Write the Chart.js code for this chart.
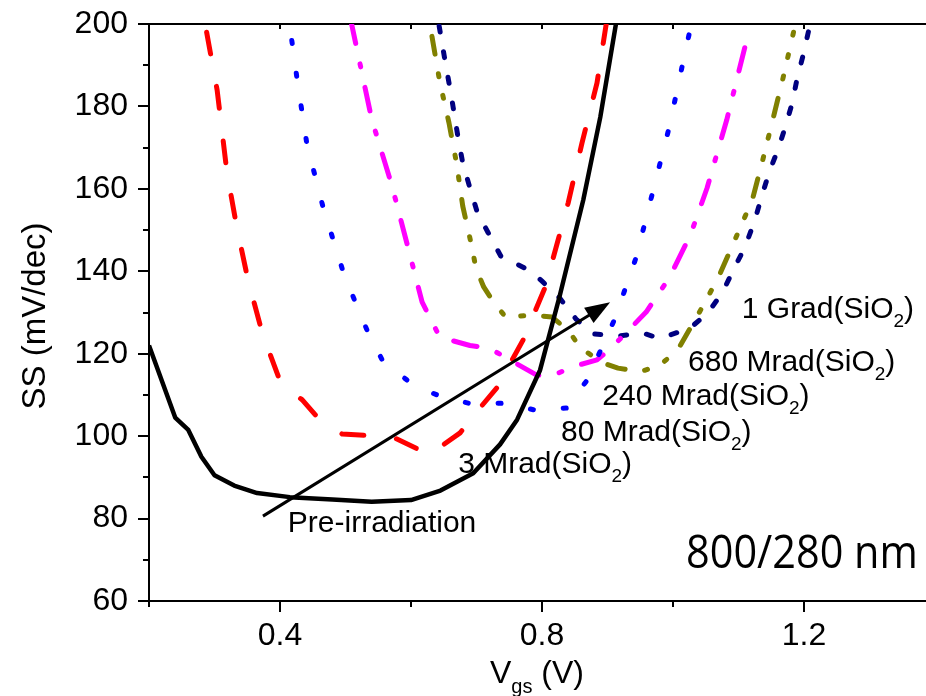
<!DOCTYPE html>
<html>
<head>
<meta charset="utf-8">
<script src="https://cdn.jsdelivr.net/npm/chart.js@4.4.0/dist/chart.umd.min.js"></script>
<style>
  html, body { margin: 0; padding: 0; overflow: hidden; background: #fff; }
  #wrap { width: 946px; height: 696px; }
</style>
</head>
<body>
<div id="wrap"><canvas id="ss-chart" width="946" height="696"></canvas></div>
<script>
// --- Subthreshold swing vs. gate voltage, one curve per dose step ---
const preVgs = [0.20, 0.24, 0.26, 0.28, 0.30, 0.33, 0.365, 0.415, 0.48, 0.54, 0.60, 0.645, 0.695, 0.736, 0.762, 0.797, 0.827, 0.863, 0.889, 0.915];
const preSS  = [122, 104.5, 101.5, 95, 90.5, 88, 86.2, 85.2, 84.6, 84.1, 84.5, 86.8, 91, 98, 104, 116, 134, 157.3, 177.4, 202];

const mrad3Vgs = [0.288, 0.304, 0.319, 0.334, 0.351, 0.373, 0.402, 0.434, 0.461, 0.495, 0.572, 0.628, 0.675, 0.705, 0.731, 0.771, 0.805, 0.840, 0.861, 0.884, 0.900];
const mrad3SS  = [198, 184, 164, 150.7, 138, 125, 112.5, 108.8, 103.9, 100.5, 99.8, 95.5, 100.8, 106.8, 111.7, 123.3, 136.2, 156.6, 171.1, 185.7, 202];

const mrad80Vgs = [0.418, 0.426, 0.441, 0.466, 0.496, 0.515, 0.534, 0.557, 0.602, 0.644, 0.693, 0.744, 0.790, 0.837, 0.869, 0.911, 0.944, 0.969, 0.994, 1.015, 1.028];
const mrad80SS  = [196, 186.7, 170.9, 155.4, 140.1, 132.5, 125.3, 118.2, 112.6, 109.7, 107.8, 108, 106.3, 106.8, 113.6, 128.4, 143.5, 159.2, 174.8, 190.5, 200];

const mrad240Vgs = [0.508, 0.540, 0.571, 0.598, 0.617, 0.644, 0.690, 0.720, 0.792, 0.815, 0.846, 0.884, 0.907, 0.959, 0.995, 1.027, 1.052, 1.082, 1.117];
const mrad240SS  = [201, 176.9, 160.7, 144.2, 132.5, 124, 122, 121.3, 114.8, 114.6, 116.8, 118.5, 121.6, 130.1, 138.6, 149, 160.2, 176.7, 199];

const mrad680Vgs = [0.632, 0.644, 0.658, 0.670, 0.679, 0.693, 0.699, 0.711, 0.727, 0.745, 0.786, 0.815, 0.840, 0.858, 0.889, 0.916, 0.950, 0.980, 1.006, 1.038, 1.069, 1.095, 1.121, 1.137, 1.153, 1.168, 1.184];
const mrad680SS  = [197, 185.9, 176, 165.8, 155.8, 145.9, 140.8, 136.2, 132.3, 128.8, 129.4, 128.9, 125.7, 121.6, 118, 116.5, 115.6, 117.3, 120.6, 129.4, 138.4, 147.8, 157.3, 167, 177.2, 186.9, 198];

const grad1Vgs = [0.643, 0.653, 0.660, 0.666, 0.672, 0.679, 0.690, 0.701, 0.718, 0.737, 0.771, 0.786, 0.800, 0.827, 0.852, 0.878, 0.916, 0.954, 0.980, 1.026, 1.053, 1.075, 1.092, 1.110, 1.125, 1.136, 1.148, 1.160, 1.171, 1.182, 1.189, 1.198, 1.208];
const grad1SS  = [199.5, 190.1, 184, 178.2, 172.3, 166.3, 160.2, 154.4, 149.3, 143.7, 141, 139.6, 137.6, 133.5, 128.4, 124.8, 124.3, 125, 123.7, 126.2, 129.9, 134.7, 140.3, 145.9, 152.4, 158.5, 164.6, 169.4, 174.8, 180.8, 186.4, 192, 199];

const xTickLabels = ['0.4', '0.8', '1.2'];
const yTickLabels = ['60', '80', '100', '120', '140', '160', '180', '200'];

const FONT = '"Liberation Sans", Arial, sans-serif';

const toPoints = (xs, ys) => xs.map((x, i) => ({ x, y: ys[i] }));

const series = [
  { label: 'Pre-irradiation', pts: toPoints(preVgs, preSS), color: '#000000', width: 4.5, dash: [] },
  { label: '3 Mrad', pts: toPoints(mrad3Vgs, mrad3SS), color: '#ff0000', width: 5, dash: [22, 33] },
  { label: '80 Mrad', pts: toPoints(mrad80Vgs, mrad80SS), color: '#0000ff', width: 5, dash: [3, 30] },
  { label: '240 Mrad', pts: toPoints(mrad240Vgs, mrad240SS), color: '#ff00ff', width: 5, dash: [24, 21, 3, 21] },
  { label: '680 Mrad', pts: toPoints(mrad680Vgs, mrad680SS), color: '#808000', width: 5, dash: [18, 20, 3, 19, 3, 20] },
  { label: '1 Grad', pts: toPoints(grad1Vgs, grad1SS), color: '#000080', width: 5, dash: [6, 20] }
];

// curve labels, anchored in data units (left edge, baseline)
const curveNotes = [
  { parts: [{ t: 'Pre-irradiation' }], at: { x: 0.412, y: 76.7 } },
  { parts: [{ t: '3 Mrad(SiO' }, { t: '2', sub: true }, { t: ')' }], at: { x: 0.672, y: 91.0 } },
  { parts: [{ t: '80 Mrad(SiO' }, { t: '2', sub: true }, { t: ')' }], at: { x: 0.829, y: 98.8 } },
  { parts: [{ t: '240 Mrad(SiO' }, { t: '2', sub: true }, { t: ')' }], at: { x: 0.892, y: 107.5 } },
  { parts: [{ t: '680 Mrad(SiO' }, { t: '2', sub: true }, { t: ')' }], at: { x: 1.023, y: 115.8 } },
  { parts: [{ t: '1 Grad(SiO' }, { t: '2', sub: true }, { t: ')' }], at: { x: 1.105, y: 128.7 } }
];
const arrowFrom = { x: 0.374, y: 80.6 };
const arrowTo = { x: 0.904, y: 132.5 };

function drawRich(ctx, parts, x, y, size, measureOnly) {
  let cx = x;
  parts.forEach(p => {
    const s = p.sub ? Math.round(size * 0.64) : size;
    ctx.font = `${s}px ${FONT}`;
    if (!measureOnly) ctx.fillText(p.t, cx, p.sub ? y + size * 0.3 : y);
    cx += ctx.measureText(p.t).width;
  });
  return cx - x;
}

const decorations = {
  id: 'decorations',
  afterDraw(chart) {
    const { ctx, chartArea: area, scales: { x, y } } = chart;
    ctx.save();
    ctx.strokeStyle = '#000';
    ctx.fillStyle = '#000';
    ctx.lineWidth = 2;
    ctx.lineCap = 'butt';

    // tick marks: long on labelled values, short in between
    ctx.beginPath();
    for (let i = 2; i <= 14; i += 2) {
      const px = Math.round(x.getPixelForValue(i / 10));
      const major = i % 4 === 0;
      ctx.moveTo(px, area.bottom);
      ctx.lineTo(px, area.bottom + (major ? 11 : 6));
      ctx.moveTo(px, area.top);
      ctx.lineTo(px, area.top + 5);
    }
    for (let v = 60; v <= 200; v += 10) {
      const py = Math.round(y.getPixelForValue(v));
      ctx.moveTo(area.left, py);
      ctx.lineTo(area.left - (v % 20 === 0 ? 11 : 6), py);
    }
    ctx.stroke();

    // dose arrow
    const x0 = x.getPixelForValue(arrowFrom.x), y0 = y.getPixelForValue(arrowFrom.y);
    const x1 = x.getPixelForValue(arrowTo.x), y1 = y.getPixelForValue(arrowTo.y);
    const ang = Math.atan2(y1 - y0, x1 - x0);
    const headLen = 25, headHalf = 9;
    ctx.lineWidth = 3;
    ctx.beginPath();
    ctx.moveTo(x0, y0);
    ctx.lineTo(x1 - headLen * 0.8 * Math.cos(ang), y1 - headLen * 0.8 * Math.sin(ang));
    ctx.stroke();
    ctx.beginPath();
    ctx.moveTo(x1, y1);
    ctx.lineTo(x1 - headLen * Math.cos(ang) + headHalf * Math.sin(ang), y1 - headLen * Math.sin(ang) - headHalf * Math.cos(ang));
    ctx.lineTo(x1 - headLen * Math.cos(ang) - headHalf * Math.sin(ang), y1 - headLen * Math.sin(ang) + headHalf * Math.cos(ang));
    ctx.closePath();
    ctx.fill();

    // curve labels
    ctx.textAlign = 'left';
    ctx.textBaseline = 'alphabetic';
    curveNotes.forEach(n => {
      drawRich(ctx, n.parts, x.getPixelForValue(n.at.x), y.getPixelForValue(n.at.y), 30);
    });

    // device size tag
    ctx.save();
    ctx.font = '46px "Open Sans", "Noto Sans", sans-serif';
    ctx.translate(x.getPixelForValue(1.020), y.getPixelForValue(68.0));
    ctx.scale(0.9, 1);
    ctx.fillText('800/280 nm', 0, 0);
    ctx.restore();

    // axis titles
    const xTitle = [{ t: 'V' }, { t: 'gs', sub: true }, { t: ' (V)' }];
    const w = drawRich(ctx, xTitle, 0, 0, 32, true);
    drawRich(ctx, xTitle, 537 - w / 2, 683, 32);

    ctx.save();
    ctx.translate(45, 316);
    ctx.rotate(-Math.PI / 2);
    ctx.textAlign = 'center';
    ctx.font = `33px ${FONT}`;
    ctx.fillText('SS (mV/dec)', 0, 0);
    ctx.restore();

    ctx.restore();
  }
};

new Chart(document.getElementById('ss-chart'), {
  type: 'line',
  data: {
    datasets: series.map(s => ({
      label: s.label,
      data: s.pts,
      borderColor: s.color,
      borderWidth: s.width,
      borderDash: s.dash,
      borderCapStyle: s.dash.length ? 'round' : 'butt',
      borderJoinStyle: 'round',
      pointRadius: 0,
      tension: 0,
      fill: false,
      clip: 0
    }))
  },
  options: {
    responsive: false,
    animation: false,
    devicePixelRatio: 1,
    layout: { padding: { left: 0, right: 11, top: 0, bottom: 0 } },
    plugins: { legend: { display: false }, tooltip: { enabled: false } },
    scales: {
      x: {
        type: 'linear',
        position: 'bottom',
        min: 0.2,
        max: 1.4,
        afterFit: s => { s.height = 95; },
        grid: { display: false, drawTicks: true, tickLength: 11 },
        border: { display: true, color: '#000', width: 2 },
        ticks: {
          stepSize: 0.2,
          autoSkip: false,
          maxRotation: 0,
          padding: 5,
          color: '#000',
          font: { family: FONT, size: 32 },
          callback: v => {
            const t = v.toFixed(1);
            return xTickLabels.includes(t) ? t : '';
          }
        }
      },
      x2: {
        type: 'linear',
        position: 'top',
        min: 0.2,
        max: 1.4,
        afterFit: s => { s.height = 24; },
        grid: { display: false },
        border: { display: true, color: '#000', width: 2 },
        ticks: { display: false }
      },
      y: {
        type: 'linear',
        min: 60,
        max: 200,
        afterFit: s => { s.width = 149; },
        grid: { display: false, drawTicks: true, tickLength: 21 },
        border: { display: true, color: '#000', width: 2 },
        ticks: {
          stepSize: 10,
          autoSkip: false,
          padding: 0,
          color: '#000',
          font: { family: FONT, size: 32 },
          callback: v => {
            const t = String(Math.round(v));
            return yTickLabels.includes(t) ? t : '';
          }
        }
      }
    }
  },
  plugins: [decorations]
});
</script>
</body>
</html>
